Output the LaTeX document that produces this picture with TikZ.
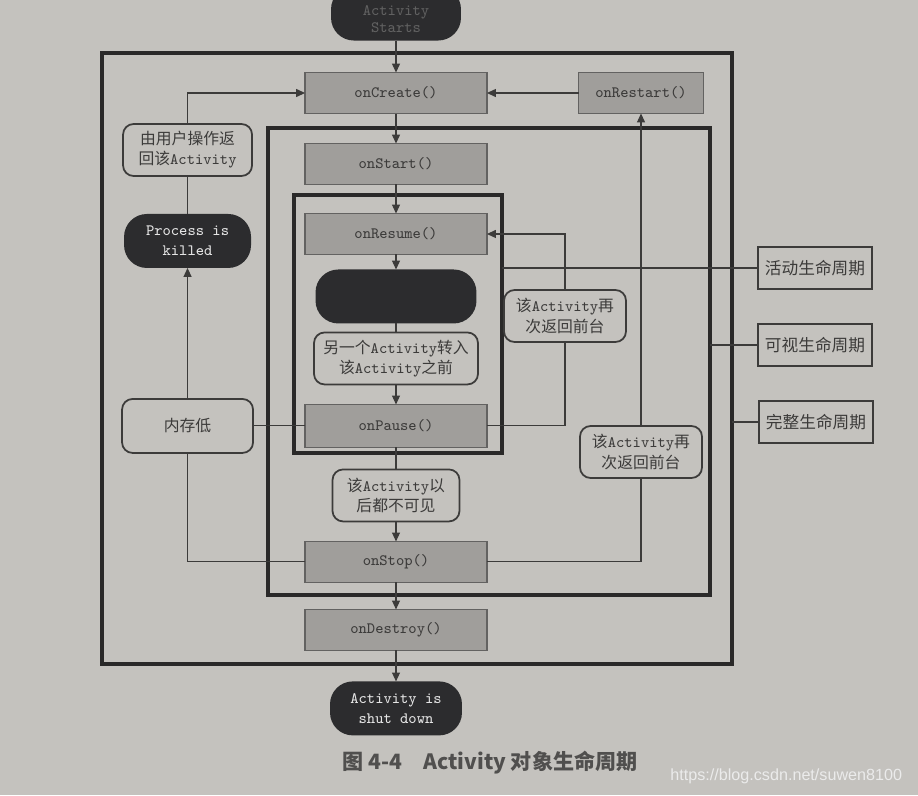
\documentclass[tikz,border=0pt]{standalone}
\usepackage{fontspec}
\newfontfamily\cjk{Noto Sans CJK SC}
\newfontfamily\websans{Liberation Sans}
\usepackage{tikz}
\usetikzlibrary{arrows.meta,positioning,fit}
\definecolor{PaperGray}{HTML}{C4C2BE}
\definecolor{BoxGray}{HTML}{A09E9B}
\definecolor{InkGray}{HTML}{3C3B3A}
\definecolor{PillBlack}{HTML}{2C2C2E}
\newcommand{\zh}[1]{{\cjk #1}}

\begin{document}
\begin{tikzpicture}[x=0.02cm,y=-0.02cm,
  every node/.style={font=\fontsize{9}{11.5}\selectfont\ttfamily,text=InkGray,outer sep=0pt},
  mbox/.style={draw=InkGray!80,fill=BoxGray,minimum width=3.64cm,minimum height=0.82cm,line width=0.6pt},
  rbox/.style={draw=InkGray,fill=PaperGray,rounded corners=6pt,line width=1pt,align=center,minimum height=1.04cm,inner sep=2pt},
  pill/.style={fill=PillBlack,rounded corners=13pt,text=white!90!black,align=center,minimum height=1.08cm},
  tag/.style={draw=InkGray,fill=PaperGray,line width=0.8pt,minimum width=2.28cm,minimum height=0.84cm,font=\fontsize{9.5}{11}\selectfont\cjk},
  lifebox/.style={draw=InkGray!70!black,line width=2.2pt,inner sep=0pt},
  conn/.style={draw=InkGray,line width=0.6pt},
  arr/.style={conn,-{Triangle[length=5pt,width=4.5pt]}}
]
  \useasboundingbox (0,0) rectangle (918,795);
  \clip (0,0) rectangle (918,795);
  \fill[PaperGray] (0,0) rectangle (918,795);

  \node[lifebox,fit={(102,53) (732,664)}] (fullf) {};
  \node[lifebox,fit={(268,128) (710,595)}] (visf) {};
  \node[lifebox,fit={(294,195) (502,453)}] (actf) {};

  \node[mbox] (cre) at (396,93) {onCreate()};
  \node[pill,minimum width=2.6cm,text=black!62,font=\fontsize{9}{10}\selectfont\ttfamily,above=0.64cm of cre] (st) {\rule{0pt}{12pt}Activity\\Starts};
  \node[mbox,below=0.6cm of cre] (sta) {onStart()};
  \node[mbox,below=0.58cm of sta] (res) {onResume()};
  \node[pill,minimum width=3.22cm,below=0.3cm of res] (run) {};
  \node[rbox,minimum width=3.28cm,below=0.18cm of run] (ano) {\zh{另一个}Activity\zh{转入}\\\zh{该}Activity\zh{之前}};
  \node[mbox,minimum height=0.86cm,below=0.4cm of ano] (pau) {onPause()};
  \node[rbox,minimum width=2.54cm,below=0.44cm of pau] (inv) {\zh{该}Activity\zh{以}\\\zh{后都不可见}};
  \node[mbox,below=0.4cm of inv] (stp) {onStop()};
  \node[mbox,below=0.54cm of stp] (des) {onDestroy()};
  \node[pill,minimum width=2.64cm,below=0.62cm of des] (down) {Activity is\\shut down};

  \node[rbox,minimum width=2.62cm,minimum height=1.08cm,left=1.04cm of pau] (mem) {\zh{内存低}};
  \node[pill,minimum width=2.54cm,above=2.62cm of mem] (kil) {Process is\\killed};
  \node[rbox,minimum width=2.58cm,above=0.76cm of kil] (usr) {\zh{由用户操作返}\\\zh{回该}Activity};

  \node[mbox,minimum width=2.5cm] (rst) at (641,93) {onRestart()};
  \node[rbox,minimum width=2.44cm] (up) at (565,316) {\zh{该}Activity\zh{再}\\\zh{次返回前台}};
  \node[rbox,minimum width=2.44cm] (back) at (641,452) {\zh{该}Activity\zh{再}\\\zh{次返回前台}};

  \node[tag] (act) at (815,268) {活动生命周期};
  \node[tag] (vis) at (815,345) {可视生命周期};
  \node[tag] (full) at (816,422) {完整生命周期};

  \draw[arr] (st) -- (cre);
  \draw[arr] (cre) -- (sta);
  \draw[arr] (sta) -- (res);
  \draw[arr] (res) -- (run);
  \draw[conn] (run) -- (ano);
  \draw[arr] (ano) -- (pau);
  \draw[conn] (pau) -- (inv);
  \draw[arr] (inv) -- (stp);
  \draw[arr] (stp) -- (des);
  \draw[arr] (des) -- (down);
  \draw[arr] (rst) -- (cre);
  \draw[conn] (stp.east) -| (back.south);
  \draw[arr] (back) -- (rst);
  \draw[conn] (pau.east) -| (up.south);
  \draw[arr] (up.north) |- (res.east);
  \draw[conn] (pau.west) -- (mem.east);
  \draw[conn] (stp.west) -| (mem.south);
  \draw[arr] (mem) -- (kil);
  \draw[conn] (kil) -- (usr);
  \draw[arr] (usr.north) |- (cre.west);
  \draw[conn] (act.west) -- (act.west -| actf.east);
  \draw[conn] (vis.west) -- (vis.west -| visf.east);
  \draw[conn] (full.west) -- (full.west -| fullf.east);

  \node[font=\fontsize{12}{14}\selectfont\cjk\bfseries,text=InkGray!90] (cap) at (490,763) {图 4-4\quad Activity 对象生命周期};
  \node[font=\fontsize{9.2}{11}\selectfont\websans,text=white!92!black,anchor=east] (url) at (908,776) {https://blog.csdn.net/suwen8100};
\end{tikzpicture}
\end{document}
